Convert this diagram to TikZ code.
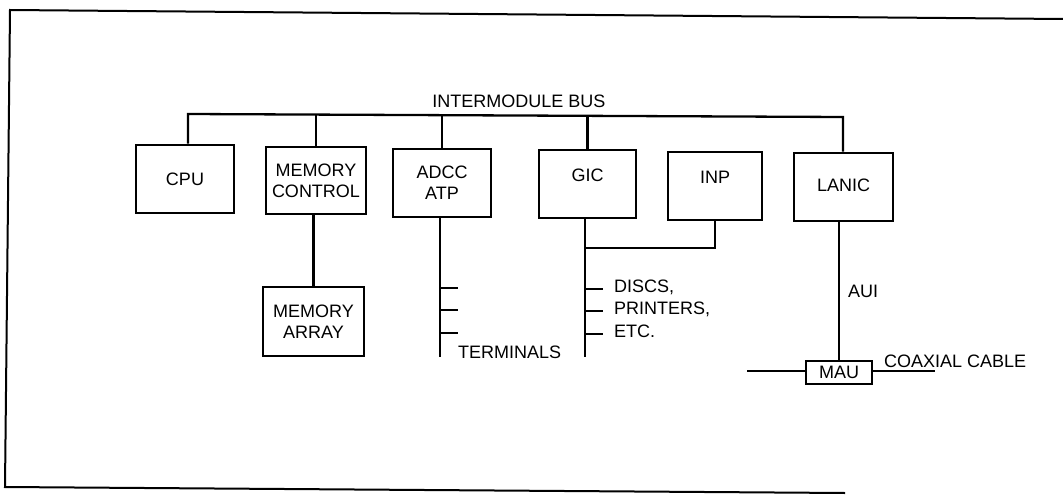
\documentclass[tikz,border=0pt]{standalone}
\usepackage{fontspec}
\setmainfont{Liberation Sans}
\begin{document}
\begin{tikzpicture}[x=1pt,y=-1pt,
  blk/.style={draw,line width=2.6pt,inner sep=0pt,align=center,font=\fontsize{18}{21}\selectfont},
  wire/.style={line width=2.3pt},
  lbl/.style={inner sep=0pt,font=\fontsize{18}{21}\selectfont},
  frm/.style={line width=2pt}]
\useasboundingbox (0,0) rectangle (1063,495);
% frame
\coordinate (f1) at (1063,19);
\coordinate (f2) at (10,10);
\coordinate (f3) at (5,487);
\coordinate (f4) at (845,493);
\draw[frm] (f1) -- (f2) -- (f3) -- (f4);
% boxes
\node[blk,minimum width=98pt,minimum height=68pt] (cpu) at (185,179) {CPU};
\node[blk,minimum width=100pt,minimum height=67pt] (mc) at (316,180.5) {MEMORY\\CONTROL};
\node[blk,minimum width=98pt,minimum height=68pt] (adcc) at (442,183) {ADCC\\ATP};
\node[blk,minimum width=97pt,minimum height=68pt] (gic) at (587.5,184) {\raisebox{18pt}{GIC}};
\node[blk,minimum width=94pt,minimum height=68pt] (inp) at (715,186) {\raisebox{18pt}{INP}};
\node[blk,minimum width=99pt,minimum height=68pt] (lanic) at (843.5,187) {\raisebox{4pt}{LANIC}};
\node[blk,minimum width=101pt,minimum height=69pt] (ma) at (313.5,321.5) {MEMORY\\ARRAY};
\node[blk,line width=2.2pt,minimum width=66pt,minimum height=23pt] (mau) at (839,372.5) {MAU};
% bus
\coordinate (b1) at (188,114);
\coordinate (b2) at (843,117);
\draw[wire] (cpu.north -| b1) -- (b1) -- (b2) -- (lanic.north -| b2);
\draw[wire] (mc.north) -- (mc.north |- 0,114.7);
\draw[wire] (adcc.north) -- (adcc.north |- 0,115.3);
\draw[wire] (gic.north) -- (gic.north |- 0,116);
\node[lbl,anchor=base] (busl) at (519,107) {INTERMODULE BUS};
% memory
\draw[wire] (mc.south -| ma.north) -- (ma.north);
% ADCC terminals
\coordinate (t0) at (440,357);
\draw[wire] (adcc.south -| t0) -- (t0);
\coordinate (ta) at (440,288);
\coordinate (tb) at (440,310);
\coordinate (tc) at (440,333);
\draw[wire] (ta) -- ++(18,0) (tb) -- ++(18,0) (tc) -- ++(18,0);
\node[lbl,anchor=base west] (term) at (458,358) {TERMINALS};
% GIC / INP
\coordinate (g0) at (585,357);
\coordinate (gj) at (585,248);
\draw[wire] (gic.south -| g0) -- (g0);
\draw[wire] (gj) -- (gj -| inp.south) -- (inp.south);
\coordinate (ga) at (585,289);
\coordinate (gb) at (585,311);
\coordinate (gc) at (585,334);
\draw[wire] (ga) -- ++(18,0) (gb) -- ++(18,0) (gc) -- ++(18,0);
\node[lbl,anchor=base west] (d1) at (614,292) {DISCS,};
\node[lbl,anchor=base west] (d2) at (614,314) {PRINTERS,};
\node[lbl,anchor=base west] (d3) at (614,337) {ETC.};
% LANIC / MAU
\draw[wire] (lanic.south -| mau.north) -- (mau.north);
\node[lbl,anchor=base west] (aui) at (848,297) {AUI};
\coordinate (cl) at (747,371);
\coordinate (cr) at (935,371);
\draw[wire] (cl) -- (mau.west |- cl);
\draw[wire] (mau.east |- cr) -- (cr);
\node[lbl,anchor=base west] (coax) at (884,367) {COAXIAL CABLE};
\end{tikzpicture}
\end{document}
